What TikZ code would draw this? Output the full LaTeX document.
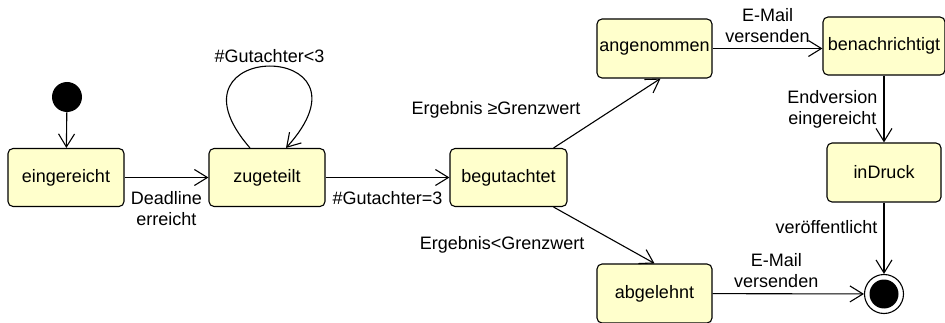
\documentclass[tikz,border=0pt]{standalone}
\usepackage{fontspec}
\setmainfont{Liberation Sans}
\usetikzlibrary{arrows.meta}
\definecolor{stategelb}{RGB}{255,255,204}

\begin{document}
\begin{tikzpicture}[x=1pt,y=-1pt,font=\fontsize{18}{21}\selectfont,
    state/.style={draw,rounded corners=5pt,fill=stategelb,line width=1.1pt,
      inner sep=1pt,minimum width=116pt,minimum height=58pt},
    trans/.style={-{Straight Barb[length=13pt,width=16pt]},line width=1.1pt},
    lbl/.style={inner sep=1pt,align=center}]
  \useasboundingbox (0,0) rectangle (945,323);
  \def\yrow{177.5}
  % states
  \node[circle,fill,inner sep=0,minimum size=30pt] (start) at (67,97) {};
  \node[state] (eingereicht) at (66,\yrow) {eingereicht};
  \node[state] (zugeteilt) at (267,\yrow) {zugeteilt};
  \node[state,minimum width=117pt] (begutachtet) at (508.5,\yrow) {begutachtet};
  \node[state,minimum width=115pt,minimum height=59pt] (angenommen) at (654.5,48.5) {angenommen};
  \node[state,minimum width=115pt,minimum height=59pt] (abgelehnt) at (654.5,293.5) {abgelehnt};
  \node[state,minimum width=122pt] (benachrichtigt) at (884,46) {benachrichtigt};
  \node[state,minimum width=114pt,minimum height=59pt] (inDruck) at (884,172.5) {inDruck};
  \node[circle,draw,line width=1.1pt,inner sep=0,minimum size=39pt] (ende) at (884,294) {};
  \fill (ende) circle (14.5);
  % transitions
  \draw[trans] (start) -- (eingereicht);
  \draw[trans] (eingereicht) -- (zugeteilt)
    node[lbl,midway,below,yshift=-12pt] {Deadline\\erreicht};
  \draw[trans] ([xshift=-17pt]zugeteilt.north)
    .. controls +(-95,-109) and +(99,-109) .. ([xshift=19pt]zugeteilt.north)
    node[lbl,pos=0.5,above,yshift=2pt] {\#Gutachter<3};
  \draw[trans] (zugeteilt) -- (begutachtet)
    node[lbl,midway,below,yshift=-12pt] {\#Gutachter=3};
  \draw[trans] ([xshift=-14pt]begutachtet.north east) -- ([xshift=6pt]angenommen.south)
    node[lbl,midway,left,xshift=-25pt,yshift=3pt] {Ergebnis ≥Grenzwert};
  \draw[trans] ([xshift=-14pt]begutachtet.south east) -- (abgelehnt.north)
    node[lbl,midway,left,xshift=-18pt,yshift=-10pt] {Ergebnis<Grenzwert};
  \draw[trans] (angenommen.east) -- (angenommen.east -| benachrichtigt.west)
    node[lbl,midway,above,yshift=4pt] {E-Mail\\versenden};
  \draw[trans] (benachrichtigt) -- (inDruck)
    node[lbl,midway,left,xshift=-5pt] {Endversion\\eingereicht};
  \draw[trans] (inDruck) -- (ende)
    node[lbl,midway,left,xshift=-5pt,yshift=11pt] {veröffentlicht};
  \draw[trans] (abgelehnt) -- (ende)
    node[lbl,midway,above,xshift=-12pt,yshift=5pt] {E-Mail\\versenden};
\end{tikzpicture}
\end{document}
